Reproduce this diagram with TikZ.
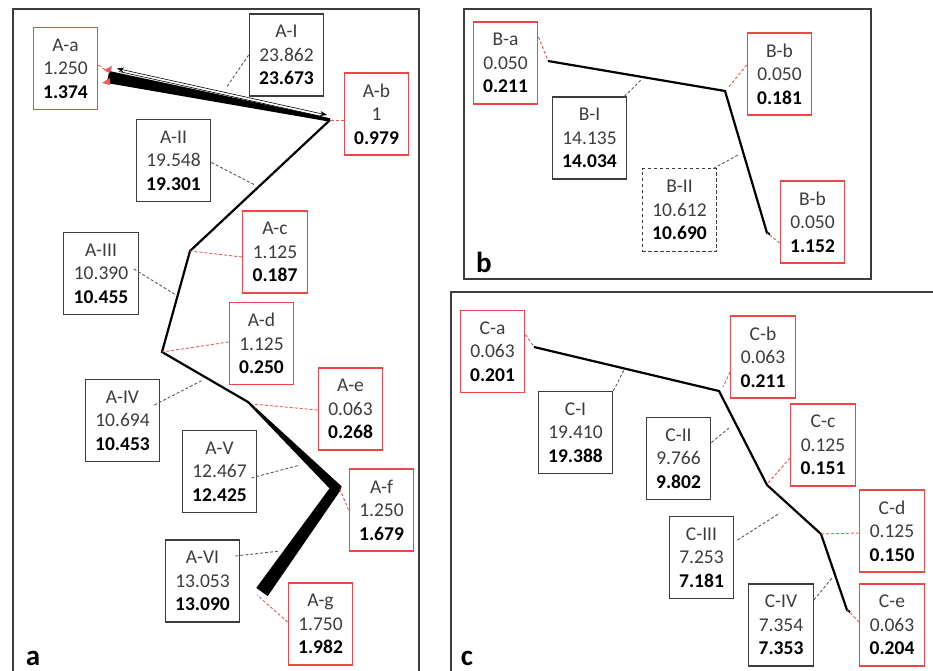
\documentclass[tikz,border=0pt]{standalone}
\usepackage{fontspec}
\setmainfont{Carlito}
\usetikzlibrary{arrows.meta}

\definecolor{boxred}{RGB}{238,70,70}
\definecolor{boxgray}{RGB}{60,60,60}
\definecolor{txtgray}{RGB}{60,60,60}
\definecolor{leadred}{RGB}{245,85,85}
\definecolor{leadgray}{RGB}{90,90,90}

\newcommand\triplbl[3]{#1\\#2\\\textcolor{black}{\bfseries #3}}

\tikzset{
  lbl/.style={align=center, inner xsep=10pt, inner ysep=0pt, minimum height=82pt,
    font=\fontsize{19.5}{23.5}\selectfont, text=txtgray, line width=1.1pt},
  redbox/.style={lbl, draw=boxred},
  blkbox/.style={lbl, draw=boxgray},
  dashbox/.style={lbl, draw=boxgray, line width=1pt, dash pattern=on 3.5pt off 2.5pt},
  redlead/.style={draw=leadred, dash pattern=on 3pt off 2pt, line width=0.9pt},
  graylead/.style={draw=leadgray, dash pattern=on 3pt off 2pt, line width=0.9pt},
  chainline/.style={line width=2.2pt, line join=miter, draw=black},
  frame/.style={draw=boxgray, line width=1.1pt},
  panellbl/.style={font=\fontsize{29}{30}\selectfont\bfseries, anchor=base, inner sep=0pt}
}

\begin{document}
\begin{tikzpicture}[x=1pt, y=-1pt]
\useasboundingbox (0,0) rectangle (933,671);

% ---------------- panel frames ----------------
\draw[frame] (13,671) -- (13,9) -- (419,9) -- (419,671);
\draw[frame] (464,9) rectangle (871,279);
\draw[frame] (451,671) -- (451,292) -- (933,292);

\node[panellbl] (la) at (33,665) {a};
\node[panellbl] (lb) at (484,272) {b};
\node[panellbl] (lc) at (467,665) {c};

% ================= panel a =================
\coordinate (pa1) at (108,77);
\coordinate (pa2) at (330,120);
\coordinate (pa3) at (190,251);
\coordinate (pa4) at (162,352);
\coordinate (pa5) at (248,402);
\coordinate (pa6) at (337,487);
\coordinate (pa7) at (262,592);

% thin chain
\draw[chainline] (pa2) -- (pa3) -- (pa4) -- (pa5) -- (249,403);
% top wedge
\fill[black] (109.2,71) -- (330.3,118.3) -- (329.7,121.7) -- (106.8,83) -- cycle;
% double thin line with arrowheads above the wedge
\draw[line width=0.6pt, {Stealth[length=7pt,width=5pt]}-{Stealth[length=7pt,width=5pt]}] (117,68.5) -- (327,115);
\draw[line width=0.6pt] (119,71.5) -- (322,116.5);
% red tips at left end
\fill[leadred] (104,70) -- (112,66) -- (110,73) -- cycle;
\fill[leadred] (102,83) -- (110,78) -- (110,85) -- cycle;
% lower wedge (A-e -> A-f -> A-g)
\fill[black] (248.7,401.3) -- (339.5,484.4) -- (341.5,486.5) -- (340.1,490.9)
  -- (267.7,596.1) -- (256.3,587.9) -- (329.5,488.4) -- (247.3,402.7) -- cycle;

% boxes
\node[redbox] (Aa) at (65.5,68.5) {\triplbl{A-a}{1.250}{1.374}};
\node[blkbox] (AI) at (286.5,55) {\triplbl{A-I}{23.862}{23.673}};
\node[redbox] (Ab) at (376.5,114) {\triplbl{A-b}{1}{0.979}};
\node[blkbox] (AII) at (173.5,160.5) {\triplbl{A-II}{19.548}{19.301}};
\node[redbox] (Ac) at (275,252) {\triplbl{A-c}{1.125}{0.187}};
\node[blkbox] (AIII) at (101,273.5) {\triplbl{A-III}{10.390}{10.455}};
\node[redbox] (Ad) at (261.5,343.5) {\triplbl{A-d}{1.125}{0.250}};
\node[redbox] (Ae) at (350.5,409) {\triplbl{A-e}{0.063}{0.268}};
\node[blkbox] (AIV) at (122.5,420.5) {\triplbl{A-IV}{10.694}{10.453}};
\node[blkbox] (AV) at (219.5,471.5) {\triplbl{A-V}{12.467}{12.425}};
\node[redbox] (Af) at (381.5,510) {\triplbl{A-f}{1.250}{1.679}};
\node[blkbox] (AVI) at (202.5,581) {\triplbl{A-VI}{13.053}{13.090}};
\node[redbox] (Ag) at (320.5,624) {\triplbl{A-g}{1.750}{1.982}};

% leaders
\coordinate (qAI) at (226,88);
\coordinate (qAII) at (255,185);
\coordinate (qAIII) at (176,295);
\coordinate (qAIV) at (203,380);
\coordinate (qAV) at (300,465);
\coordinate (qAVI) at (280,551);
\coordinate (qAe) at (252,404);
\coordinate (qAf) at (339,487);
\coordinate (qAg) at (257,595);
\coordinate (qAa) at (108,72);

\draw[redlead] ([yshift=3.5pt]Aa.east) -- (qAa);
\draw[graylead] (AI.west) -- (qAI);
\draw[redlead] ([yshift=-6pt]Ab.west) -- (pa2);
\draw[graylead] ([yshift=-2pt]AII.east) -- (qAII);
\draw[redlead] ([yshift=-5pt]Ac.west) -- (pa3);
\draw[graylead] ([xshift=-5pt,yshift=4.5pt]AIII.east) -- (qAIII);
\draw[redlead] ([yshift=1.5pt]Ad.west) -- (pa4);
\draw[graylead] ([xshift=-6pt,yshift=15.5pt]AIV.east) -- (qAIV);
\draw[redlead] ([yshift=-1pt]Ae.west) -- (qAe);
\draw[graylead] ([xshift=-6pt,yshift=-6.5pt]AV.east) -- (qAV);
\draw[redlead] (Af.west) -- (qAf);
\draw[graylead] ([xshift=-5pt,yshift=25pt]AVI.east) -- (qAVI);
\draw[redlead] ([yshift=2pt]Ag.west) -- (qAg);

% ================= panel b =================
\coordinate (pb1) at (548,61);
\coordinate (pb2) at (725,91);
\coordinate (pb3) at (767,233);
\coordinate (pb4) at (770,234);
\draw[chainline] (pb1) -- (pb2) -- (pb3) -- (pb4);

\node[redbox] (Ba) at (505.5,63) {\triplbl{B-a}{0.050}{0.211}};
\node[redbox] (Bb) at (779.5,74) {\triplbl{B-b}{0.050}{0.181}};
\node[blkbox] (BI) at (589.5,138) {\triplbl{B-I}{14.135}{14.034}};
\node[dashbox] (BII) at (679.5,210) {\triplbl{B-II}{10.612}{10.690}};
\node[redbox] (Bc) at (812.5,222) {\triplbl{B-b}{0.050}{1.152}};

\coordinate (qBI) at (642,79);
\coordinate (qBII) at (738,155);
\coordinate (qBb) at (728,88);
\draw[redlead] ([yshift=26pt]Ba.east) -- (pb1);
\draw[graylead] ([xshift=-3pt]BI.north east) -- (qBI);
\draw[redlead] ([yshift=9pt]Bb.west) -- (qBb);
\draw[graylead] ([xshift=-4pt]BII.north east) -- (qBII);
\draw[redlead] ([yshift=-21pt]Bc.west) -- (pb3);

% ================= panel c =================
\coordinate (pc1) at (534,347);
\coordinate (pc2) at (719,391);
\coordinate (pc3) at (767,485);
\coordinate (pc4) at (821,534);
\coordinate (pc5) at (847,610);
\coordinate (pc6) at (850,612);
\draw[chainline] (pc1) -- (pc2) -- (pc3) -- (pc4) -- (pc5) -- (pc6);

\node[redbox] (Ca) at (492.5,351.5) {\triplbl{C-a}{0.063}{0.201}};
\node[redbox] (Cb) at (763,357) {\triplbl{C-b}{0.063}{0.211}};
\node[blkbox] (CI) at (575.5,432.5) {\triplbl{C-I}{19.410}{19.388}};
\node[blkbox] (CII) at (678.5,458.5) {\triplbl{C-II}{9.766}{9.802}};
\node[redbox] (Cc) at (823,445) {\triplbl{C-c}{0.125}{0.151}};
\node[redbox] (Cd) at (892,531) {\triplbl{C-d}{0.125}{0.150}};
\node[blkbox] (CIII) at (701.5,557.5) {\triplbl{C-III}{7.253}{7.181}};
\node[blkbox] (CIV) at (781,625) {\triplbl{C-IV}{7.354}{7.353}};
\node[redbox] (Ce) at (892,625) {\triplbl{C-e}{0.063}{0.204}};

\coordinate (qCI) at (624,370);
\coordinate (qCb) at (723,387);
\coordinate (qCII) at (729,428);
\coordinate (qCc) at (768,483);
\coordinate (qCIII) at (780,513);
\coordinate (qCIV) at (832,578);
\draw[redlead] ([yshift=17pt]Ca.east) -- (pc1);
\draw[graylead] (CI.north east) -- (qCI);
\draw[redlead] ([yshift=-15pt]Cb.west) -- (qCb);
\draw[graylead] ([yshift=16pt]CII.east) -- (qCII);
\draw[redlead] ([yshift=-13pt]Cc.west) -- (qCc);
\draw[graylead] ([xshift=3pt,yshift=17.5pt]CIII.east) -- (qCIII);
\draw[redlead] ([yshift=-2pt]Cd.west) -- (pc4);
\draw[graylead] ([yshift=25pt]CIV.east) -- (qCIV);
\draw[redlead] ([yshift=3pt]Ce.west) -- (pc5);
\end{tikzpicture}
\end{document}
